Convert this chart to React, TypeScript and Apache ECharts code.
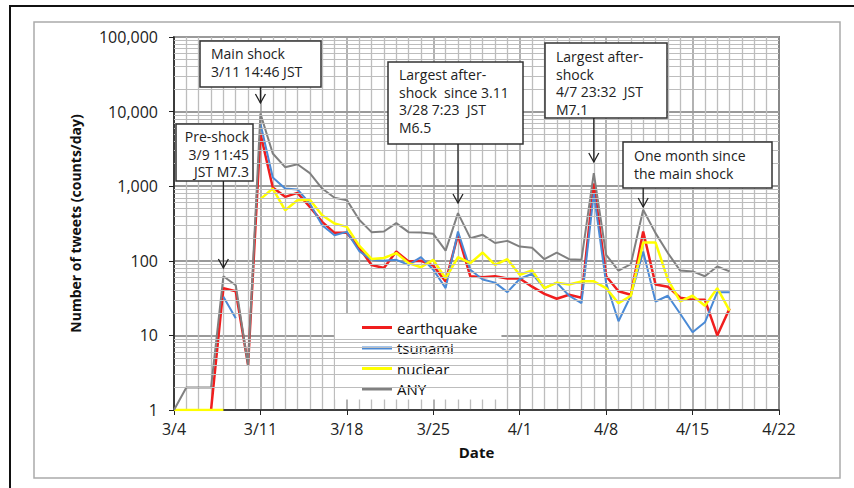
import React, { useEffect, useRef } from 'react';
import * as echarts from 'echarts';

// Day 0 = 3/4, one value per day up to 4/18 (day 45)
const dateTicks = ['3/4', '3/11', '3/18', '3/25', '4/1', '4/8', '4/15', '4/22'];

const earthquake = [null, null, null, 1, 43, 39, 4, 5090, 960, 720, 813, 528, 333, 237, 237, 150, 88, 80, 133, 98, 100, 86, 53, 223, 62, 60, 62, 58, 58, 45, 36, 31, 35, 32, 1090, 62, 39, 35, 247, 48, 45, 32, 30, 30, 10, 23];
const tsunami = [null, null, null, null, 33, 17, null, 6920, 1310, 930, 905, 586, 300, 220, 244, 135, 103, 100, 103, 88, 112, 76, 43, 247, 76, 56, 51, 38, 57, 67, 43, 51, 34, 27, 800, 50, 15.5, 34, 133, 28.5, 34, 19.5, 11, 15, 38, 38];
const nuclear = [1, 1, 1, 1, 1, null, null, 670, 930, 477, 650, 660, 409, 316, 285, 160, 106, 109, 127, 93, 82, 103, 58, 112, 93, 129, 88, 105, 65, 74, 43, 51, 48, 53, 53, 43, 27, 34, 176, 176, 56, 28.5, 34, 25, 43, 21.5];
const anyWord = [1, 2, 2, 2, 62, 47, 4, 9400, 2740, 1800, 1970, 1500, 930, 700, 650, 355, 242, 247, 320, 242, 240, 230, 137, 436, 201, 223, 173, 185, 155, 150, 105, 129, 105, 103, 1500, 120, 74, 90, 483, 235, 127, 74, 72, 62, 84, 72];

const seriesNames = ['earthquake', 'tsunami', 'nuclear', 'ANY'];
const seriesColors = ['#f01e1e', '#4a8ad6', '#ffff00', '#808080'];
const seriesWidths = [2.5, 2, 2.5, 2];

// log minor gridline values (2..9 within each decade)
const minorGridValues: number[] = [];
for (let e = 0; e < 5; e++) {
  for (let m = 2; m <= 9; m++) minorGridValues.push(m * Math.pow(10, e));
}

// annotations: box in px, arrow at day index
const annotations = [
  { lines: 'Pre-shock\n3/9 11:45\nJST M7.3', box: [176, 124, 77, 57], align: 'right', textX: 249, textY: 128, day: 4, tipY: 268 },
  { lines: 'Main shock\n3/11 14:46 JST', box: [200, 41, 121, 46], align: 'left', textX: 211, textY: 45, day: 7, tipY: 103 },
  { lines: 'Largest after-\nshock  since 3.11\n3/28 7:23  JST\nM6.5', box: [388, 62, 135, 82], align: 'left', textX: 399, textY: 66, day: 23, tipY: 203 },
  { lines: 'Largest after-\nshock\n4/7 23:32  JST\nM7.1', box: [545, 43, 122, 75], align: 'left', textX: 556, textY: 48, day: 34, tipY: 162 },
  { lines: 'One month since\nthe main shock', box: [623, 142, 149, 46], align: 'left', textX: 634, textY: 147, day: 38, tipY: 207 },
];

export default function App() {
  const ref = useRef<HTMLDivElement>(null);
  useEffect(() => {
    if (!ref.current) return;
    const chart = echarts.init(ref.current, null, { renderer: 'svg' });
    const allData = [earthquake, tsunami, nuclear, anyWord];
    const option: any = {
      animation: false,
      backgroundColor: '#fff',
      textStyle: { fontFamily: '"Open Sans", sans-serif' },
      grid: { left: 174, right: 75, top: 37, bottom: 78, show: true, borderColor: '#222', borderWidth: 1.5, backgroundColor: 'transparent' },
      legend: {
        data: seriesNames,
        orient: 'vertical',
        left: 335,
        top: 313,
        padding: [7, 24, 3, 27],
        backgroundColor: '#fff',
        icon: 'rect',
        itemWidth: 30,
        itemHeight: 3,
        itemGap: 5.5,
        textStyle: { fontSize: 15, color: '#111', fontFamily: '"Open Sans", sans-serif' },
        z: 5,
      },
      xAxis: {
        type: 'value',
        min: 0,
        max: 49,
        interval: 7,
        name: 'Date',
        nameLocation: 'middle',
        nameGap: 34,
        nameTextStyle: { fontSize: 15, fontWeight: 'bold', color: '#111' },
        axisLine: { show: true, lineStyle: { color: '#222', width: 1.5 } },
        axisTick: { show: true, length: 5, lineStyle: { color: '#222' } },
        axisLabel: { fontSize: 16, color: '#222', margin: 11, formatter: (v: number) => dateTicks[Math.round(v / 7)] ?? '' },
        splitLine: { show: true, lineStyle: { color: '#999', width: 1.5 } },
        minorTick: { show: false, splitNumber: 7 },
        minorSplitLine: { show: true, lineStyle: { color: '#bdbdbd', width: 1.3 } },
      },
      yAxis: {
        type: 'log',
        logBase: 10,
        min: 1,
        max: 100000,
        name: 'Number of tweets (counts/day)',
        nameLocation: 'middle',
        nameGap: 92,
        nameTextStyle: { fontSize: 14, fontWeight: 'bold', color: '#111' },
        axisLine: { show: true, lineStyle: { color: '#222', width: 1.5 } },
        axisTick: { show: true, length: 5, lineStyle: { color: '#222' } },
        axisLabel: { fontSize: 16, color: '#222', margin: 16, formatter: (v: number) => Math.round(v).toLocaleString('en-US') },
        splitLine: { show: true, lineStyle: { color: '#9a9a9a', width: 2 } },
      },
      series: [
        {
          name: 'grid-minor',
          type: 'line',
          data: [],
          silent: true,
          z: 1,
          markLine: {
            silent: true,
            symbol: ['none', 'none'],
            label: { show: false },
            lineStyle: { color: '#bdbdbd', width: 1, type: 'solid' },
            data: minorGridValues.map((v) => ({ yAxis: v })),
          },
        },
        ...seriesNames.map((name, i) => ({
          name,
          type: 'line',
          data: allData[i].map((v, d) => [d, v]),
          symbol: 'none',
          showSymbol: false,
          connectNulls: false,
          z: 3,
          lineStyle: { color: seriesColors[i], width: seriesWidths[i] },
          itemStyle: { color: seriesColors[i] },
        })),
      ],
    };
    chart.setOption(option);

    const graphics: any[] = [
      { type: 'rect', shape: { x: 10, y: 6, width: 900, height: 520 }, style: { fill: 'none', stroke: '#111', lineWidth: 2 }, z: 100, silent: true },
      { type: 'rect', shape: { x: 34, y: 22, width: 806, height: 456 }, style: { fill: 'none', stroke: '#aaa', lineWidth: 1.5 }, z: 100, silent: true },
    ];
    annotations.forEach((a) => {
      const px = chart.convertToPixel({ xAxisIndex: 0 } as any, a.day) as number;
      const [bx, by, bw, bh] = a.box;
      graphics.push({ type: 'rect', shape: { x: bx, y: by, width: bw, height: bh }, style: { fill: '#fff', stroke: '#333', lineWidth: 1.5 }, z: 100, silent: true });
      graphics.push({
        type: 'text', z: 101, silent: true,
        style: { text: a.lines, x: a.textX, y: a.textY, align: a.align, verticalAlign: 'top', fill: '#222', font: '14px "Open Sans", sans-serif', lineHeight: 17.5 },
      });
      graphics.push({ type: 'line', shape: { x1: px, y1: by + bh, x2: px, y2: a.tipY }, style: { stroke: '#222', lineWidth: 1.3 }, z: 100, silent: true });
      graphics.push({ type: 'polyline', shape: { points: [[px - 5, a.tipY - 9], [px, a.tipY], [px + 5, a.tipY - 9]] }, style: { fill: 'none', stroke: '#222', lineWidth: 1.3 }, z: 100, silent: true });
    });
    chart.setOption({ graphic: graphics });

    return () => chart.dispose();
  }, []);
  return <div ref={ref} style={{ position: 'fixed', left: 0, top: 0, width: 854, height: 488, background: '#fff' }} />;
}
